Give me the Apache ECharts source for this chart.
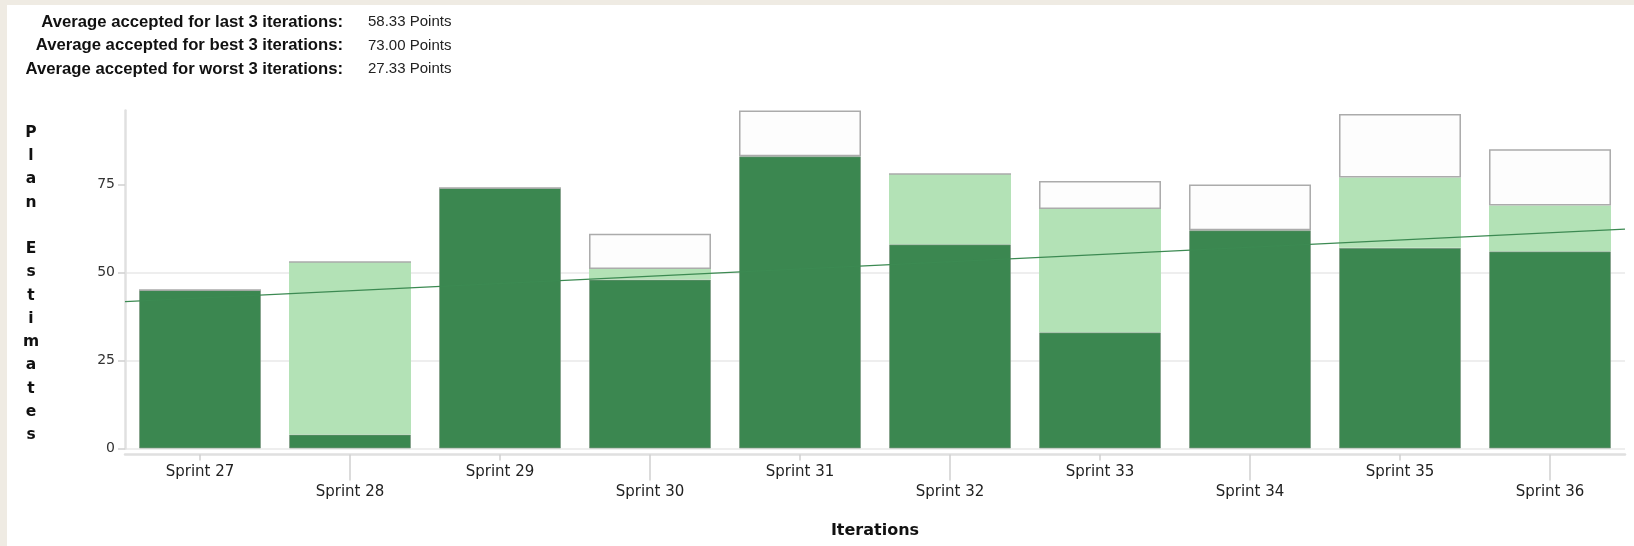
<!DOCTYPE html>
<html>
<head>
<meta charset="utf-8">
<title>Iteration velocity</title>
<script src="https://cdn.jsdelivr.net/npm/echarts@6/dist/echarts.min.js"></script>
<style>
  html, body { margin: 0; padding: 0; background: #efebe3; }
  #chart { position: absolute; left: 7px; top: 5px; width: 1627px; height: 541px; background: #ffffff; }
</style>
</head>
<body>
<div id="chart"></div>
<script>
// Iterations and their plan estimates (points)
const iterations = ['Sprint 27', 'Sprint 28', 'Sprint 29', 'Sprint 30', 'Sprint 31',
                    'Sprint 32', 'Sprint 33', 'Sprint 34', 'Sprint 35', 'Sprint 36'];
const accepted  = [45, 4, 74, 48, 83, 58, 33, 62, 57, 56];
const completed = [0, 49, 0, 3, 0, 20, 35, 0, 20, 13];
const remaining = [0, 0, 0, 10, 13, 0, 8, 13, 18, 16];
const yTicks = [0, 25, 50, 75];

// Summary figures derived from accepted points
const avg = a => a.reduce((s, v) => s + v, 0) / a.length;
const sortedDesc = accepted.slice().sort((a, b) => b - a);
const summary = [
  ['Average accepted for last 3 iterations:', avg(accepted.slice(-3))],
  ['Average accepted for best 3 iterations:', avg(sortedDesc.slice(0, 3))],
  ['Average accepted for worst 3 iterations:', avg(sortedDesc.slice(-3))]
];

// Least-squares trend of accepted points, spanning the full category range
const n = accepted.length;
const mx = (n - 1) / 2, my = avg(accepted);
let sxy = 0, sxx = 0;
accepted.forEach((v, i) => { sxy += (i - mx) * (v - my); sxx += (i - mx) * (i - mx); });
const slope = sxy / sxx;
const trendAt = x => my + slope * (x - mx);
const trend = [[-0.5, trendAt(-0.5)], [n - 0.5, trendAt(n - 0.5)]];

const totals = accepted.map((v, i) => v + completed[i] + remaining[i]);
const yMax = Math.max(...totals);

const FONT = '"DejaVu Sans", Verdana, sans-serif';

const summaryText = [];
summary.forEach(([label, value], i) => {
  const y = 17 + i * 23.5;
  summaryText.push({
    type: 'text', x: 336, y: y,
    style: { text: label, font: 'bold 16.7px "Liberation Sans", Arial, sans-serif', fill: '#111',
             align: 'right', textAlign: 'right', verticalAlign: 'middle', textVerticalAlign: 'middle' }
  });
  summaryText.push({
    type: 'text', x: 361, y: y,
    style: { text: value.toFixed(2) + ' Points', font: '15px "Liberation Sans", Arial, sans-serif', fill: '#222',
             align: 'left', textAlign: 'left', verticalAlign: 'middle', textVerticalAlign: 'middle' }
  });
});

const chart = echarts.init(document.getElementById('chart'), null, { renderer: 'canvas' });

const labelStyle = { fontFamily: FONT, fontSize: 15, color: '#222' };

chart.setOption({
  animation: false,
  backgroundColor: '#ffffff',
  grid: { left: 118, top: 105.5, width: 1500, height: 338, containLabel: false },
  graphic: summaryText.concat([{
    type: 'text', x: 24, y: 279,
    style: {
      text: 'P\nl\na\nn\n \nE\ns\nt\ni\nm\na\nt\ne\ns',
      font: 'bold 15.5px ' + FONT, fill: '#111', lineHeight: 23.25,
      align: 'center', textAlign: 'center', verticalAlign: 'middle', textVerticalAlign: 'middle'
    }
  }]),
  xAxis: [
    {
      type: 'category', data: iterations, position: 'bottom', offset: 6,
      axisLine: { show: true, onZero: false, lineStyle: { color: '#e0e0e0', width: 2.5 } },
      axisTick: { show: true, alignWithLabel: true, length: 6,
                  interval: i => i % 2 === 0, lineStyle: { color: '#cfcfcf', width: 1.5 } },
      axisLabel: Object.assign({ interval: i => i % 2 === 0, margin: 10 }, labelStyle),
      name: 'Iterations', nameLocation: 'middle', nameGap: 68,
      nameTextStyle: { fontFamily: FONT, fontSize: 16, fontWeight: 'bold', color: '#111' }
    },
    {
      type: 'category', data: iterations, position: 'bottom', offset: 6,
      axisLine: { show: false, onZero: false },
      axisTick: { show: true, alignWithLabel: true, length: 26,
                  interval: i => i % 2 === 1, lineStyle: { color: '#cfcfcf', width: 1.5 } },
      axisLabel: Object.assign({ interval: i => i % 2 === 1, margin: 30 }, labelStyle)
    },
    { type: 'value', min: -0.5, max: n - 0.5, show: false }
  ],
  yAxis: {
    type: 'value', min: 0, max: yMax, interval: 25, position: 'left',
    axisLine: { show: true, onZero: false, lineStyle: { color: '#e0e0e0', width: 2.5 } },
    axisTick: { show: true, length: 7, customValues: yTicks, lineStyle: { color: '#cfcfcf', width: 1.5 } },
    axisLabel: { customValues: yTicks, margin: 10, fontFamily: FONT, fontSize: 14, color: '#333' },
    splitLine: { show: true, showMinLine: true, showMaxLine: false, lineStyle: { color: '#e8e8e8', width: 1.5 } }
  },
  series: [
    {
      name: 'Accepted', type: 'bar', stack: 'plan', xAxisIndex: 0, data: accepted,
      barCategoryGap: '18.7%',
      itemStyle: { color: '#3b8750', borderColor: 'rgba(125,150,130,0.7)', borderWidth: 1 },
      emphasis: { disabled: true }
    },
    {
      name: 'Completed', type: 'bar', stack: 'plan', xAxisIndex: 0, data: completed,
      barCategoryGap: '18.7%',
      itemStyle: { color: '#b3e2b6' },
      emphasis: { disabled: true }
    },
    {
      name: 'Remaining', type: 'bar', stack: 'plan', xAxisIndex: 0, data: remaining,
      barCategoryGap: '18.7%',
      itemStyle: { color: '#fdfdfd', borderColor: '#ababab', borderWidth: 1.5 },
      emphasis: { disabled: true }
    },
    {
      name: 'Trend', type: 'line', xAxisIndex: 2, yAxisIndex: 0, data: trend,
      symbol: 'none', z: 5, silent: true,
      lineStyle: { color: '#3c8a52', width: 1.3 }
    }
  ]
});
</script>
</body>
</html>
